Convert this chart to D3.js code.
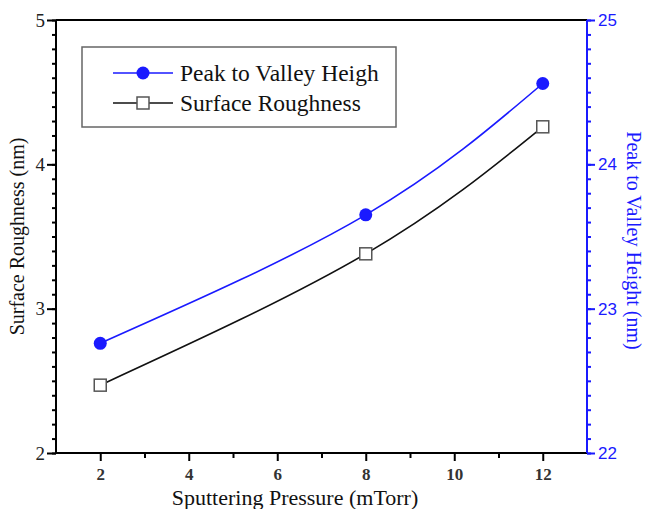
<!DOCTYPE html>
<html>
<head>
<meta charset="utf-8">
<script src="https://cdn.jsdelivr.net/npm/d3@7"></script>
<style>
body { margin: 0; background: #fff; }
</style>
</head>
<body>
<div id="chart"></div>
<script>
var width = 646,
    height = 509;

// data
var pressure = [2, 8, 12];
var roughness = [2.47, 3.38, 4.26];      // left axis (nm)
var peakValley = [22.76, 23.65, 24.56];  // right axis (nm)
var xTicks = [2, 4, 6, 8, 10, 12];
var yLeftTicks = [2, 3, 4, 5];
var yRightTicks = [22, 23, 24, 25];

var pLeft = 56, pRight = 587, pTop = 20, pBottom = 453;
var blue = "#1a1aff";

var x = d3.scaleLinear().domain([1, 13]).range([pLeft, pRight]);
var yL = d3.scaleLinear().domain([2, 5]).range([pBottom, pTop]);
var yR = d3.scaleLinear().domain([22, 25]).range([pBottom, pTop]);

var svg = d3.select("#chart")
    .append("svg")
    .attr("width", width)
    .attr("height", height);

// frame top line
svg.append("line")
    .attr("x1", pLeft).attr("x2", pRight)
    .attr("y1", pTop).attr("y2", pTop)
    .attr("stroke", "#000").attr("stroke-width", 2);

// minor ticks
var minorY = d3.range(2, 5.001, 0.1);
var minorX = d3.range(3, 12, 2);

var gx = svg.append("g").attr("transform", "translate(0," + pBottom + ")");
gx.call(d3.axisBottom(x).tickValues(minorX).tickSize(5).tickFormat(""));
gx.append("g").call(d3.axisBottom(x).tickValues(xTicks).tickSize(8).tickFormat(d3.format("d")));
gx.selectAll(".domain").attr("stroke-width", 2).attr("d", "M" + pLeft + ",0H" + pRight);
gx.selectAll("line").attr("stroke-width", 2);
gx.selectAll("text")
    .attr("font-family", "Liberation Serif")
    .attr("font-size", 17)
    .attr("font-weight", "bold")
    .attr("fill", "#333")
    .attr("dy", "0.95em");

var gl = svg.append("g").attr("transform", "translate(" + pLeft + ",0)");
gl.call(d3.axisLeft(yL).tickValues(minorY).tickSize(4).tickFormat(""));
gl.append("g").call(d3.axisLeft(yL).tickValues(yLeftTicks).tickSize(9).tickFormat(d3.format("d")));
gl.selectAll(".domain").attr("stroke-width", 2).attr("d", "M0," + pTop + "V" + pBottom);
gl.selectAll("line").attr("stroke-width", 2);
gl.selectAll("text")
    .attr("font-family", "Liberation Serif")
    .attr("font-size", 19)
    .attr("fill", "#222")
    .attr("x", -11);

var gr = svg.append("g").attr("transform", "translate(" + pRight + ",0)");
gr.call(d3.axisRight(yR).tickValues(minorY.map(function (v) { return v + 20; })).tickSize(4).tickFormat(""));
gr.append("g").call(d3.axisRight(yR).tickValues(yRightTicks).tickSize(8).tickFormat(d3.format("d")));
gr.selectAll(".domain").attr("stroke", blue).attr("stroke-width", 2).attr("d", "M0," + pTop + "V" + pBottom);
gr.selectAll("line").attr("stroke", blue).attr("stroke-width", 2);
gr.selectAll("text")
    .attr("font-family", "Liberation Sans")
    .attr("font-size", 17)
    .attr("fill", blue)
    .attr("x", 11);

// series
var lineR = d3.line()
    .x(function (d, i) { return x(pressure[i]); })
    .y(function (d) { return yR(d); })
    .curve(d3.curveNatural);
var lineL = d3.line()
    .x(function (d, i) { return x(pressure[i]); })
    .y(function (d) { return yL(d); })
    .curve(d3.curveNatural);

svg.append("path")
    .datum(peakValley)
    .attr("d", lineR)
    .attr("fill", "none")
    .attr("stroke", blue)
    .attr("stroke-width", 1.6);

svg.append("path")
    .datum(roughness)
    .attr("d", lineL)
    .attr("fill", "none")
    .attr("stroke", "#111")
    .attr("stroke-width", 1.6);

svg.selectAll("circle.pv")
    .data(peakValley)
    .enter()
    .append("circle")
    .attr("class", "pv")
    .attr("cx", function (d, i) { return x(pressure[i]); })
    .attr("cy", function (d) { return yR(d); })
    .attr("r", 6.5)
    .attr("fill", blue);

svg.selectAll("rect.sr")
    .data(roughness)
    .enter()
    .append("rect")
    .attr("class", "sr")
    .attr("x", function (d, i) { return x(pressure[i]) - 6; })
    .attr("y", function (d) { return yL(d) - 6; })
    .attr("width", 12)
    .attr("height", 12)
    .attr("fill", "#fff")
    .attr("stroke", "#555")
    .attr("stroke-width", 1.5);

// legend
var lg = svg.append("g");
lg.append("rect")
    .attr("x", 82).attr("y", 47)
    .attr("width", 314).attr("height", 80)
    .attr("fill", "#fff")
    .attr("stroke", "#666")
    .attr("stroke-width", 1.5);
lg.append("line")
    .attr("x1", 113).attr("x2", 173).attr("y1", 73).attr("y2", 73)
    .attr("stroke", blue).attr("stroke-width", 1.6);
lg.append("circle")
    .attr("cx", 143).attr("cy", 73).attr("r", 6.5).attr("fill", blue);
lg.append("line")
    .attr("x1", 113).attr("x2", 173).attr("y1", 103).attr("y2", 103)
    .attr("stroke", "#111").attr("stroke-width", 1.6);
lg.append("rect")
    .attr("x", 137).attr("y", 97).attr("width", 12).attr("height", 12)
    .attr("fill", "#fff").attr("stroke", "#555").attr("stroke-width", 1.5);
lg.append("text")
    .attr("x", 180).attr("y", 81)
    .attr("font-family", "Liberation Serif").attr("font-size", 23.5).attr("fill", "#111")
    .text("Peak to Valley Heigh");
lg.append("text")
    .attr("x", 180).attr("y", 111)
    .attr("font-family", "Liberation Serif").attr("font-size", 23.5).attr("fill", "#111")
    .text("Surface Roughness");

// axis titles
svg.append("text")
    .attr("transform", "translate(24," + ((pTop + pBottom) / 2) + ")rotate(-90)")
    .attr("text-anchor", "middle")
    .attr("font-family", "Liberation Serif").attr("font-size", 20).attr("fill", "#111")
    .text("Surface Roughness (nm)");

svg.append("text")
    .attr("x", 295).attr("y", 505)
    .attr("text-anchor", "middle")
    .attr("font-family", "Liberation Serif").attr("font-size", 22).attr("fill", "#111")
    .text("Sputtering Pressure (mTorr)");

svg.append("text")
    .attr("transform", "translate(627," + ((pTop + pBottom) / 2 + 4) + ")rotate(90)")
    .attr("text-anchor", "middle")
    .attr("font-family", "Liberation Serif").attr("font-size", 20).attr("fill", blue)
    .text("Peak to Valley Height (nm)");
</script>
</body>
</html>
